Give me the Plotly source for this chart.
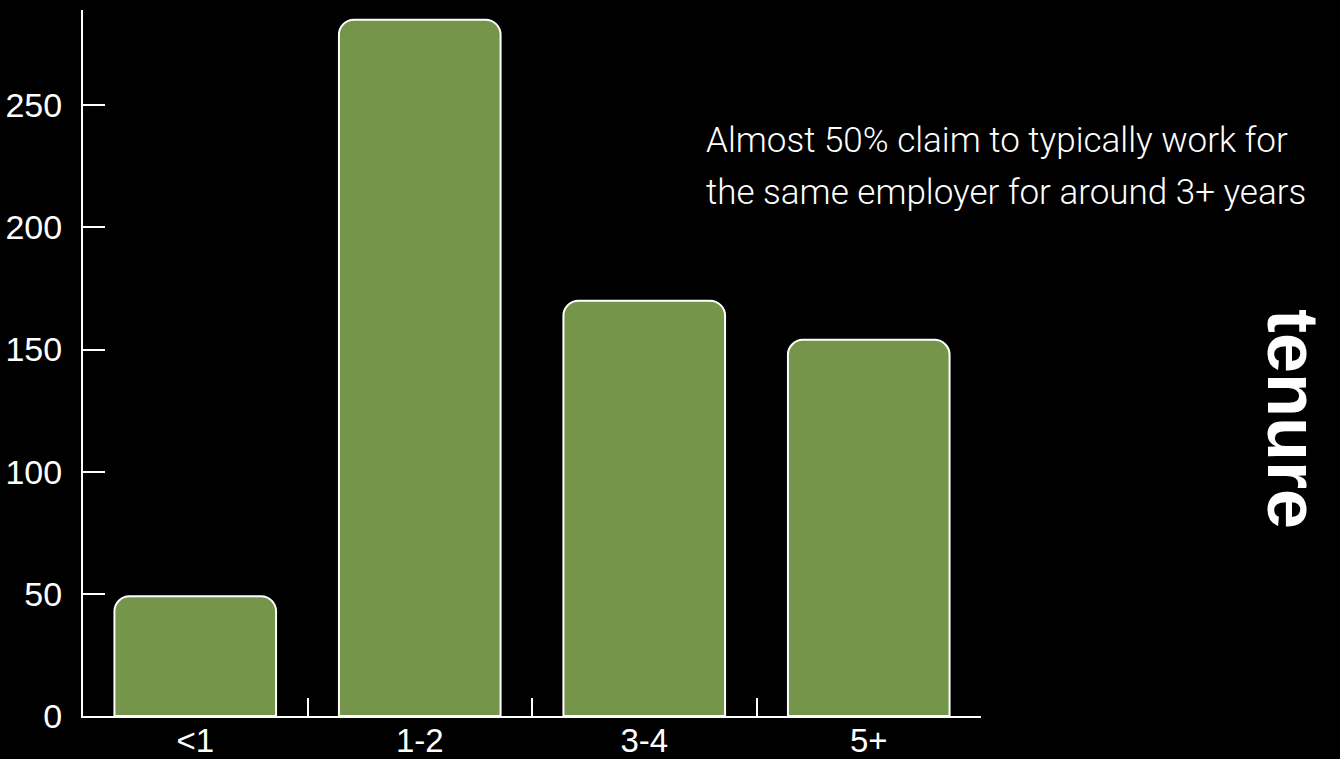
import plotly.graph_objects as go

categories = ["<1", "1-2", "3-4", "5+"]
counts = [49, 285, 170, 154]
y_ticks = [0, 50, 100, 150, 200, 250]
note_lines = ["Almost 50% claim to typically work for", "the same employer for around 3+ years"]
side_title = "tenure"

W, H = 1340, 759
L, R, T, B = 83, 981, 10, 716


def px_x(x):
    return (x - L) / (R - L)


def px_y(y):
    return (B - y) / (B - T)


fig = go.Figure(
    go.Bar(
        x=categories,
        y=counts,
        marker=dict(color="#75954B", line=dict(color="white", width=2), cornerradius=15),
        hoverinfo="skip",
    )
)

fig.update_layout(
    width=W,
    height=H,
    margin=dict(l=L, r=W - R, t=T, b=H - B, pad=0, autoexpand=False),
    paper_bgcolor="black",
    plot_bgcolor="black",
    bargap=0.28,
    showlegend=False,
    font=dict(family="Liberation Sans, Arial, sans-serif", color="white", size=34),
)

fig.update_xaxes(
    type="category",
    range=[-0.5, 3.5],
    automargin=False,
    showline=True,
    linecolor="white",
    linewidth=2,
    ticks="inside",
    tickson="boundaries",
    ticklen=18,
    tickwidth=2,
    tickcolor="white",
    showgrid=False,
    zeroline=False,
    tickfont=dict(size=33, color="white"),
    ticklabelstandoff=-6,
)

fig.update_yaxes(
    range=[0, 289],
    tickvals=y_ticks,
    automargin=False,
    showline=True,
    linecolor="white",
    linewidth=2,
    ticks="inside",
    ticklen=22,
    tickwidth=2,
    tickcolor="white",
    showgrid=False,
    zeroline=False,
    tickfont=dict(size=34, color="white"),
    ticklabelstandoff=12,
)

line_tops = [118, 170]
for txt, top in zip(note_lines, line_tops):
    fig.add_annotation(
        text=txt,
        xref="paper",
        yref="paper",
        x=px_x(704),
        y=px_y(top),
        xanchor="left",
        yanchor="top",
        align="left",
        showarrow=False,
        font=dict(family="Roboto, Liberation Sans, sans-serif", size=35, color="white", weight=300),
    )

fig.add_annotation(
    text="<b>" + side_title + "</b>",
    xref="paper",
    yref="paper",
    x=px_x(1293),
    y=px_y(419),
    xanchor="center",
    yanchor="middle",
    textangle=90,
    showarrow=False,
    font=dict(family="Liberation Sans, Arial, sans-serif", size=72, color="white"),
)

fig.write_html("out.html")
